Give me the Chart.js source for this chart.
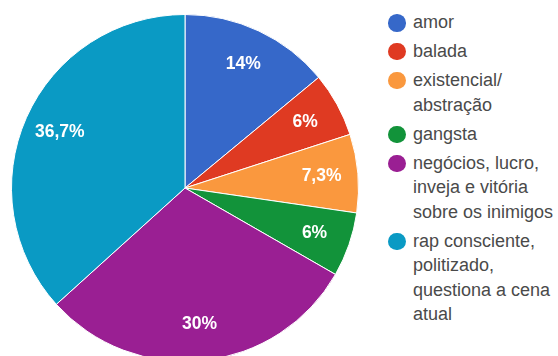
<!DOCTYPE html>
<html>
<head>
<meta charset="utf-8">
<script src="https://cdn.jsdelivr.net/npm/chart.js@4"></script>
<style>
  html, body { margin: 0; padding: 0; background: #fff; overflow: hidden; }
  body { width: 558px; height: 356px; position: relative; font-family: 'Liberation Sans', Arial, sans-serif; }
  #pieBox { position: absolute; left: 11px; top: 14px; width: 348px; height: 348px; }
  #legend { position: absolute; left: 388px; top: 10px; margin: 0; padding: 0; list-style: none; }
  #legend li { position: relative; padding-left: 25px; margin-bottom: 4.4px; font-size: 18px; line-height: 24.6px; color: #4a4a4a; white-space: nowrap; }
  #legend .dot { position: absolute; left: 0; top: 4px; width: 17.5px; height: 17.5px; border-radius: 50%; }
</style>
</head>
<body>
<div id="pieBox"><canvas id="pie" width="348" height="348"></canvas></div>
<ul id="legend"></ul>
<script>
// categories (each entry = the lines shown in the legend)
const categories = [
  ['amor'],
  ['balada'],
  ['existencial/', 'abstração'],
  ['gangsta'],
  ['negócios, lucro,', 'inveja e vitória', 'sobre os inimigos'],
  ['rap consciente,', 'politizado,', 'questiona a cena', 'atual'],
];
const shares = [14, 6, 7.3, 6, 30, 36.7];
const sliceColors = ['#3668c9', '#df3a22', '#fa983e', '#12933a', '#9a1f93', '#0a9ac4'];

const fmtPct = v => String(v).replace('.', ',') + '%';

// percentage labels inside the slices
const sliceLabels = {
  id: 'sliceLabels',
  afterDatasetsDraw(chart) {
    const { ctx } = chart;
    const meta = chart.getDatasetMeta(0);
    ctx.save();
    ctx.font = 'bold 17.5px "Liberation Sans", Arial, sans-serif';
    ctx.fillStyle = '#ffffff';
    ctx.textAlign = 'center';
    ctx.textBaseline = 'middle';
    meta.data.forEach((arc, i) => {
      const { x, y, startAngle, endAngle, outerRadius } = arc.getProps(['x', 'y', 'startAngle', 'endAngle', 'outerRadius'], true);
      const mid = (startAngle + endAngle) / 2;
      const r = outerRadius * 0.79;
      ctx.fillText(fmtPct(shares[i]), x + Math.cos(mid) * r, y + Math.sin(mid) * r);
    });
    ctx.restore();
  },
};

new Chart(document.getElementById('pie'), {
  type: 'pie',
  data: {
    labels: categories.map(c => c.join(' ')),
    datasets: [{
      data: shares,
      backgroundColor: sliceColors,
      borderColor: '#ffffff',
      borderWidth: 1,
    }],
  },
  options: {
    responsive: false,
    animation: false,
    layout: { padding: 0 },
    plugins: { legend: { display: false }, tooltip: { enabled: false } },
  },
  plugins: [sliceLabels],
});

// legend on the right
const legend = document.getElementById('legend');
categories.forEach((lines, i) => {
  const li = document.createElement('li');
  const dot = document.createElement('span');
  dot.className = 'dot';
  dot.style.background = sliceColors[i];
  li.appendChild(dot);
  lines.forEach((line, j) => {
    if (j) li.appendChild(document.createElement('br'));
    li.appendChild(document.createTextNode(line));
  });
  legend.appendChild(li);
});
</script>
</body>
</html>
